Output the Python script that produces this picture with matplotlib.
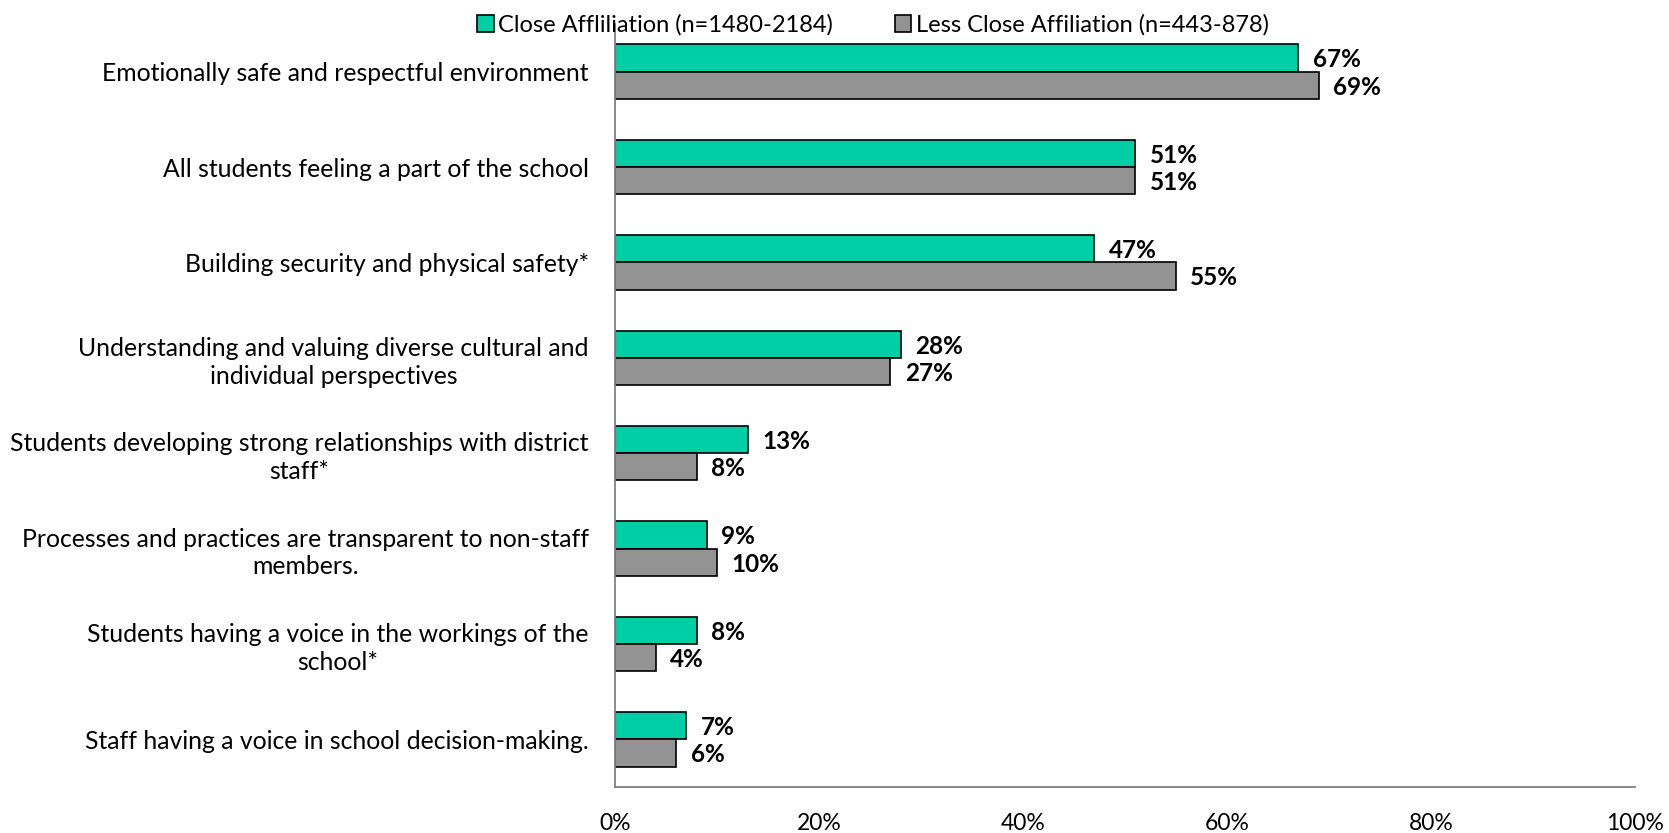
import matplotlib.pyplot as plt
import numpy as np

plt.rcParams['font.family'] = ['Lato', 'DejaVu Sans']

categories = [
    "Emotionally safe and respectful environment",
    "All students feeling a part of the school",
    "Building security and physical safety*",
    "Understanding and valuing diverse cultural and\nindividual perspectives",
    "Students developing strong relationships with district\nstaff*",
    "Processes and practices are transparent to non-staff\nmembers.",
    "Students having a voice in the workings of the\nschool*",
    "Staff having a voice in school decision-making.",
]
close_vals = [67, 51, 47, 28, 13, 9, 8, 7]
less_vals = [69, 51, 55, 27, 8, 10, 4, 6]
series_names = ["Close Affliliation (n=1480-2184)", "Less Close Affiliation (n=443-878)"]
xticks = [0, 20, 40, 60, 80, 100]

teal = '#00CFA6'
grey = '#939393'

fig = plt.figure(figsize=(16.69, 8.33), dpi=100)
ax = fig.add_axes([0.3685, 0.0552, 0.6111, 0.916])

y = np.arange(len(categories))
h = 0.285
b1 = ax.barh(y - h / 2, close_vals, height=h, color=teal, edgecolor='black', linewidth=1.2,
             label=series_names[0])
b2 = ax.barh(y + h / 2, less_vals, height=h, color=grey, edgecolor='black', linewidth=1.2,
             label=series_names[1])

for bars, vals in ((b1, close_vals), (b2, less_vals)):
    for bar, v in zip(bars, vals):
        ax.text(v + 1.4, bar.get_y() + bar.get_height() / 2 + 0.02, f"{v}%",
                va='center', ha='left', fontsize=17.5, fontweight='bold')

ax.set_ylim(len(categories) - 0.5, -0.5)
ax.set_xlim(0, 100)
ax.set_yticks(y)
ax.set_yticklabels(categories, fontsize=17.8, multialignment='center', linespacing=1.25)
ax.set_xticks(xticks)
ax.set_xticklabels([f"{t}%" for t in xticks], fontsize=16.5)
ax.tick_params(axis='both', length=0)
ax.tick_params(axis='y', pad=19)
ax.tick_params(axis='x', pad=19)

for s in ('top', 'right'):
    ax.spines[s].set_visible(False)
for s in ('left', 'bottom'):
    ax.spines[s].set_color('#808080')
    ax.spines[s].set_linewidth(1.3)

ax.legend(loc='lower center', bbox_to_anchor=(0.253, 0.972), ncol=2, frameon=False,
          fontsize=17, handlelength=0.7, handleheight=0.7, handletextpad=0.2,
          columnspacing=2.6, borderaxespad=0)

fig.savefig('out.png', dpi=100)
